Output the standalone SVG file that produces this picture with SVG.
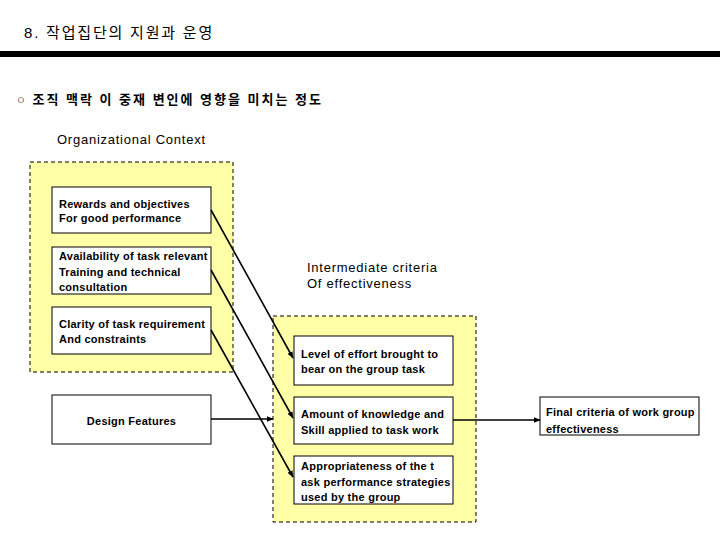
<svg xmlns="http://www.w3.org/2000/svg" width="720" height="540" viewBox="0 0 720 540">
<style>
text{font-family:"Liberation Sans","Noto Sans CJK KR",sans-serif;fill:#000}
.t{font-size:11px;font-weight:bold;letter-spacing:0.25px}
.h{font-size:13px;letter-spacing:0.75px}
.group{fill:#FFFFA8;stroke:#000;stroke-width:1;stroke-dasharray:4 3}
.box{fill:#fff;stroke:#000;stroke-width:1}
.c{stroke:#000;stroke-width:1.6;fill:none;marker-end:url(#ah)}
</style>
<defs>
<marker id="ah" viewBox="0 0 10 10" refX="9" refY="5" markerWidth="7" markerHeight="7" markerUnits="userSpaceOnUse" orient="auto">
<path d="M0,1 L10,5 L0,9 z" fill="#000"/>
</marker>
</defs>
<rect width="720" height="540" fill="#fff"/>
<text x="24" y="38" style="font-size:15px;letter-spacing:1.8px">8. 작업집단의 지원과 운영</text>
<rect x="0" y="51" width="720" height="6" fill="#000"/>
<text x="17" y="104" style="font-size:13px;font-weight:bold;letter-spacing:2px">○ 조직 맥락 이 중재 변인에 영향을 미치는 정도</text>
<text x="57" y="144" class="h">Organizational Context</text>
<text x="307" y="272" class="h">Intermediate criteria</text>
<text x="307" y="288" class="h">Of effectiveness</text>

<g id="org-context"><rect class="group" x="30" y="162" width="203" height="210"/></g>
<g id="intermediate"><rect class="group" x="273" y="316" width="203" height="206"/></g>

<g id="rewards"><rect class="box" x="52" y="187" width="159" height="46"/>
<text class="t" x="59" y="208">Rewards and objectives</text>
<text class="t" x="59" y="222">For good performance</text></g>

<g id="training"><rect class="box" x="52" y="247" width="159" height="47"/>
<text class="t" x="59" y="260">Availability of task relevant</text>
<text class="t" x="59" y="276">Training and technical</text>
<text class="t" x="59" y="291">consultation</text></g>

<g id="clarity"><rect class="box" x="52" y="307" width="159" height="47"/>
<text class="t" x="59" y="328">Clarity of task requirement</text>
<text class="t" x="59" y="343">And constraints</text></g>

<g id="design"><rect class="box" x="52" y="395" width="159" height="49"/>
<text class="t" x="131.5" y="425" text-anchor="middle">Design Features</text></g>

<g id="effort"><rect class="box" x="294" y="336" width="159" height="49"/>
<text class="t" x="301" y="358">Level of effort brought to</text>
<text class="t" x="301" y="373">bear on the group task</text></g>

<g id="knowledge"><rect class="box" x="294" y="397" width="159" height="47"/>
<text class="t" x="301" y="418">Amount of knowledge and</text>
<text class="t" x="301" y="434">Skill applied to task work</text></g>

<g id="strategies"><rect class="box" x="294" y="456" width="159" height="48"/>
<text class="t" x="301" y="470">Appropriateness of the t</text>
<text class="t" x="301" y="486">ask performance strategies</text>
<text class="t" x="301" y="501">used by the group</text></g>

<g id="final"><rect class="box" x="540" y="397" width="159" height="38"/>
<text class="t" x="546" y="416">Final criteria of work group</text>
<text class="t" x="546" y="433">effectiveness</text></g>

<g id="connectors">
<line class="c" x1="211" y1="210" x2="293" y2="358"/>
<line class="c" x1="211" y1="270" x2="293" y2="418"/>
<line class="c" x1="211" y1="330" x2="293" y2="477"/>
<line class="c" x1="211" y1="419" x2="273" y2="419"/>
<line class="c" x1="453" y1="420" x2="540" y2="420"/>
</g>
</svg>
